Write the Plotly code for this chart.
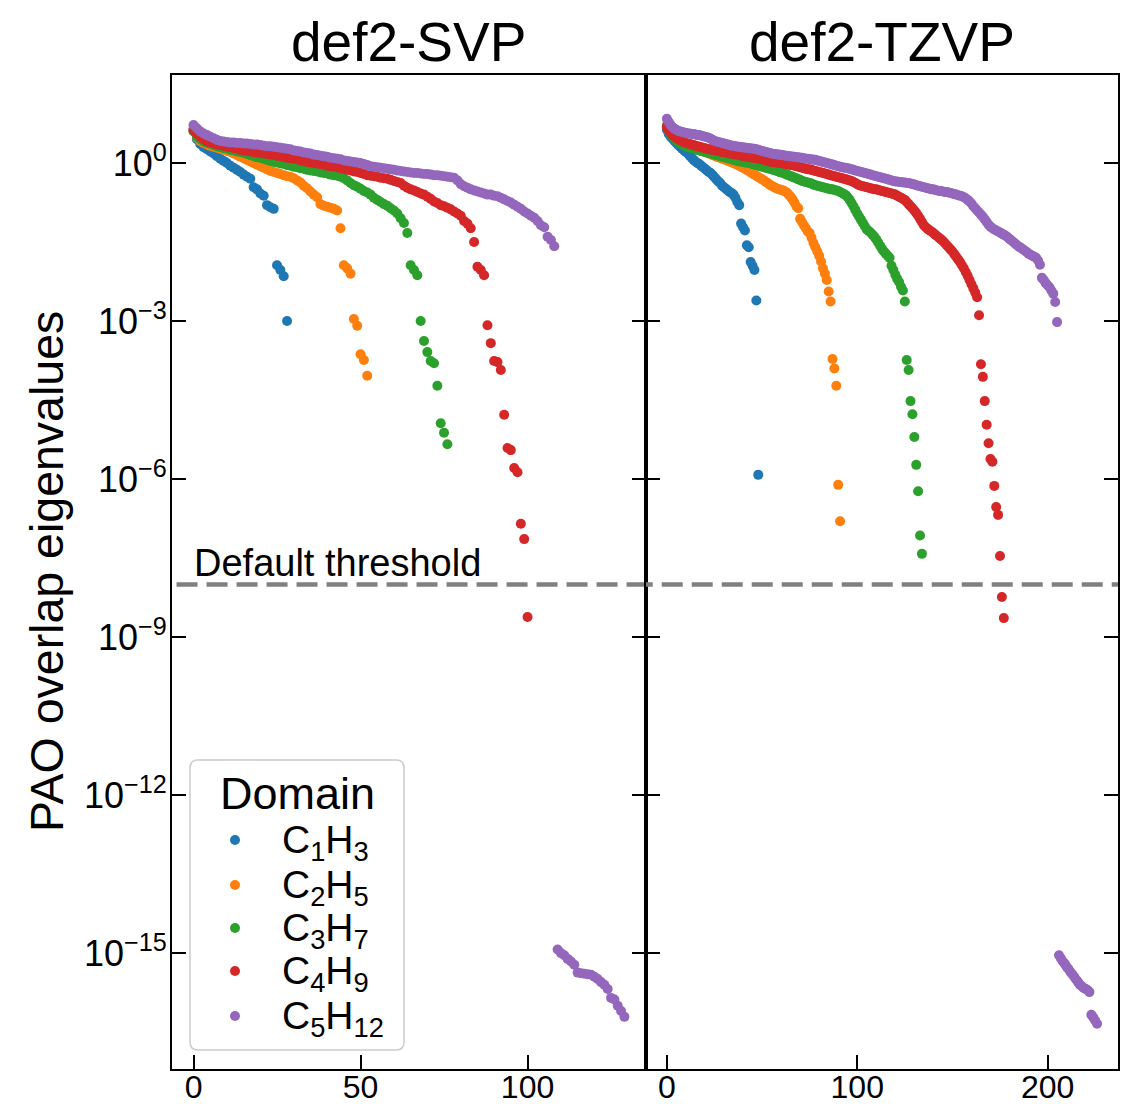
import plotly.graph_objects as go

# ---------------- data (log10 of PAO overlap eigenvalues) ----------------
domain_names = ["C<sub>1</sub>H<sub>3</sub>", "C<sub>2</sub>H<sub>5</sub>", "C<sub>3</sub>H<sub>7</sub>",
                "C<sub>4</sub>H<sub>9</sub>", "C<sub>5</sub>H<sub>12</sub>"]
colors = ["#1f77b4", "#ff7f0e", "#2ca02c", "#d62728", "#9467bd"]
panel_titles = ["def2-SVP", "def2-TZVP"]
legend_title = "Domain"
x_ticks_svp = [0, 50, 100]
x_ticks_tzvp = [0, 100, 200]
y_tick_exponents = [0, -3, -6, -9, -12, -15]
threshold = 1e-8

svp_c1h3 = [0.62, 0.45, 0.36, 0.30, 0.26, 0.22, 0.18, 0.13, 0.08, 0.04,
            0.00, -0.05, -0.09, -0.13, -0.17, -0.22, -0.26, -0.30, -0.46, -0.50,
            -0.58, -0.62, -0.80, -0.84, -0.87, -1.94, -2.03, -2.15, -3.00]

svp_c2h5 = [0.66, 0.48, 0.42, 0.38, 0.35, 0.33, 0.31, 0.29, 0.27, 0.25,
            0.23, 0.21, 0.18, 0.15, 0.12, 0.09, 0.06, 0.03, 0.00, -0.03,
            -0.06, -0.09, -0.12, -0.15, -0.17, -0.19, -0.21, -0.23, -0.25, -0.26,
            -0.29, -0.33, -0.37, -0.43, -0.48, -0.54, -0.60, -0.65, -0.78, -0.81,
            -0.83, -0.85, -0.87, -0.90,
            -1.24, -1.94, -2.00, -2.10, -2.96, -3.09, -3.63, -3.74, -4.04]

svp_c3h7 = [0.60, 0.50, 0.45, 0.41, 0.38, 0.36, 0.34, 0.32, 0.30, 0.28,
            0.27, 0.25, 0.24, 0.22, 0.21, 0.19, 0.17, 0.15, 0.13, 0.11,
            0.10, 0.08, 0.06, 0.04, 0.02, 0.01, -0.01, -0.02, -0.04, -0.05,
            -0.07, -0.08, -0.10, -0.11, -0.13, -0.14, -0.15, -0.16, -0.18, -0.19,
            -0.20, -0.22, -0.23, -0.24, -0.26, -0.29, -0.33, -0.38, -0.42, -0.45,
            -0.49, -0.53, -0.56, -0.60, -0.66, -0.70, -0.74, -0.78, -0.81, -0.86,
            -0.90, -0.96, -1.05, -1.14,
            -1.33, -1.94, -2.03, -2.13, -3.00, -3.38, -3.59, -3.76, -3.80, -4.23,
            -4.94, -5.12, -5.34]

svp_c4h9 = [0.62, 0.55, 0.50, 0.45, 0.41, 0.39, 0.37, 0.35, 0.34, 0.33,
            0.31, 0.30, 0.28, 0.27, 0.25, 0.24, 0.23, 0.22, 0.21, 0.20,
            0.19, 0.18, 0.17, 0.16, 0.15, 0.14, 0.13, 0.11, 0.10, 0.09,
            0.08, 0.07, 0.05, 0.04, 0.02, 0.01, 0.00, -0.01, -0.02, -0.03,
            -0.05, -0.06, -0.07, -0.08, -0.10, -0.11, -0.13, -0.14, -0.16, -0.17,
            -0.19, -0.21, -0.23, -0.24, -0.25, -0.26, -0.28, -0.29, -0.30, -0.32,
            -0.34, -0.36, -0.38, -0.43, -0.47, -0.50, -0.52, -0.55, -0.58, -0.60,
            -0.64, -0.68, -0.73, -0.76, -0.80, -0.82, -0.85, -0.88, -0.92, -0.96,
            -1.00, -1.10, -1.15, -1.24, -1.50,
            -1.97, -2.03, -2.13, -3.08, -3.42, -3.76, -3.78, -3.93, -4.78, -5.41,
            -5.45, -5.79, -5.87, -6.85, -7.14, -8.62]

svp_c5h12 = [0.72, 0.66, 0.60, 0.56, 0.53, 0.50, 0.47, 0.44, 0.42, 0.41,
             0.40, 0.39, 0.39, 0.38, 0.38, 0.37, 0.37, 0.36, 0.35, 0.35,
             0.34, 0.33, 0.32, 0.32, 0.31, 0.30, 0.29, 0.28, 0.27, 0.26,
             0.24, 0.23, 0.22, 0.20, 0.19, 0.18, 0.16, 0.15, 0.14, 0.13,
             0.12, 0.10, 0.09, 0.08, 0.07, 0.05, 0.04, 0.03, 0.02, 0.01,
             0.00, -0.02, -0.04, -0.06, -0.07, -0.08, -0.09, -0.10, -0.11, -0.12,
             -0.13, -0.14, -0.15, -0.16, -0.17, -0.18, -0.19, -0.19, -0.20, -0.21,
             -0.21, -0.22, -0.23, -0.23, -0.24, -0.25, -0.26, -0.27, -0.28, -0.33,
             -0.40, -0.44, -0.47, -0.50, -0.52, -0.54, -0.56, -0.58, -0.60, -0.60,
             -0.62, -0.63, -0.66, -0.69, -0.72, -0.75, -0.79, -0.83, -0.87, -0.92,
             -0.96, -1.00, -1.04, -1.10, -1.18, -1.22, -1.40, -1.46, -1.58,
             -14.93, -15.00, -15.04, -15.11, -15.16, -15.22, -15.37, -15.38, -15.39, -15.40,
             -15.41, -15.45, -15.49, -15.55, -15.60, -15.68, -15.85, -15.88, -16.00, -16.10,
             -16.21]

tzvp_c1h3 = [0.63, 0.55, 0.50, 0.46, 0.42, 0.38, 0.34, 0.31, 0.27, 0.24,
             0.21, 0.18, 0.14, 0.10, 0.06, 0.03, 0.00, -0.02, -0.05, -0.08,
             -0.11, -0.14, -0.17, -0.19, -0.23, -0.27, -0.31, -0.35, -0.38, -0.43,
             -0.46, -0.49, -0.52, -0.55, -0.57, -0.60, -0.66, -0.74, -0.80,
             -1.15, -1.22, -1.28, -1.56, -1.60, -1.88, -1.95, -2.03, -2.61, -5.92]

tzvp_c2h5 = [0.72, 0.64, 0.58, 0.54, 0.50, 0.47, 0.44, 0.42, 0.40, 0.38,
             0.36, 0.35, 0.33, 0.32, 0.30, 0.29, 0.27, 0.26, 0.24, 0.23,
             0.21, 0.20, 0.18, 0.17, 0.15, 0.14, 0.12, 0.11, 0.10, 0.08,
             0.07, 0.06, 0.04, 0.03, 0.01, 0.00, -0.02, -0.03, -0.05, -0.07,
             -0.09, -0.11, -0.13, -0.15, -0.18, -0.20, -0.22, -0.24, -0.27, -0.29,
             -0.31, -0.33, -0.36, -0.38, -0.41, -0.43, -0.45, -0.47, -0.49, -0.50,
             -0.51, -0.52, -0.54, -0.56, -0.60, -0.64, -0.69, -0.75, -0.82, -0.86,
             -1.06, -1.12, -1.18, -1.24, -1.30, -1.33, -1.42, -1.52, -1.60, -1.68,
             -1.76, -1.87, -2.00, -2.10, -2.22, -2.44, -2.63,
             -3.72, -3.90, -4.23, -6.11, -6.80]

tzvp_c3h7 = [0.70, 0.60, 0.55, 0.50, 0.46, 0.43, 0.40, 0.37, 0.35, 0.33,
             0.32, 0.30, 0.29, 0.28, 0.27, 0.26, 0.25, 0.24, 0.23, 0.22,
             0.21, 0.20, 0.19, 0.18, 0.17, 0.16, 0.15, 0.14, 0.13, 0.12,
             0.11, 0.10, 0.09, 0.08, 0.07, 0.06, 0.05, 0.04, 0.03, 0.03,
             0.02, 0.01, 0.01, 0.00, -0.01, -0.02, -0.03, -0.04, -0.05, -0.06,
             -0.07, -0.08, -0.09, -0.10, -0.11, -0.12, -0.13, -0.14, -0.15, -0.17,
             -0.18, -0.19, -0.20, -0.22, -0.23, -0.25, -0.26, -0.28, -0.29, -0.31,
             -0.32, -0.34, -0.35, -0.36, -0.37, -0.38, -0.39, -0.41, -0.42, -0.43,
             -0.44, -0.45, -0.46, -0.47, -0.48, -0.49, -0.50, -0.50, -0.51, -0.52,
             -0.53, -0.55, -0.57, -0.59, -0.61, -0.65, -0.70, -0.76, -0.82, -0.89,
             -0.96, -1.02, -1.08, -1.14, -1.20, -1.26, -1.29, -1.32, -1.36, -1.40,
             -1.45, -1.51, -1.57, -1.63, -1.68, -1.72, -1.76, -1.80, -1.95, -2.03,
             -2.12, -2.20, -2.26, -2.35, -2.42, -2.63,
             -3.74, -3.93, -4.52, -4.77, -5.20, -5.73, -6.23, -7.07, -7.42]

tzvp_c4h9 = [0.68, 0.62, 0.57, 0.53, 0.50, 0.47, 0.45, 0.43, 0.41, 0.40,
             0.38, 0.37, 0.36, 0.35, 0.34, 0.33, 0.32, 0.31, 0.30, 0.29,
             0.28, 0.27, 0.26, 0.26, 0.25, 0.24, 0.24, 0.23, 0.22, 0.21,
             0.21, 0.20, 0.19, 0.18, 0.18, 0.17, 0.16, 0.16, 0.15, 0.14,
             0.14, 0.13, 0.12, 0.12, 0.11, 0.10, 0.10, 0.09, 0.08, 0.08,
             0.07, 0.06, 0.05, 0.04, 0.03, 0.02, 0.02, 0.01, 0.01, 0.00,
             0.00, -0.01, -0.02, -0.02, -0.03, -0.04, -0.04, -0.05, -0.06, -0.07,
             -0.08, -0.09, -0.10, -0.11, -0.12, -0.12, -0.13, -0.14, -0.15, -0.16,
             -0.17, -0.18, -0.19, -0.20, -0.21, -0.22, -0.23, -0.24, -0.25, -0.26,
             -0.27, -0.28, -0.29, -0.30, -0.31, -0.32, -0.33, -0.34, -0.36, -0.38,
             -0.40, -0.42, -0.43, -0.44, -0.45, -0.46, -0.47, -0.48, -0.49, -0.50,
             -0.50, -0.51, -0.52, -0.53, -0.54, -0.55, -0.56, -0.57, -0.58, -0.59,
             -0.60, -0.62, -0.64, -0.66, -0.68, -0.70, -0.74, -0.78, -0.82, -0.86,
             -0.90, -0.95, -1.00, -1.06, -1.12, -1.18, -1.22, -1.25, -1.28, -1.30,
             -1.33, -1.36, -1.39, -1.42, -1.45, -1.48, -1.52, -1.56, -1.60, -1.64,
             -1.68, -1.73, -1.78, -1.83, -1.88, -1.94, -2.00, -2.07, -2.14, -2.22,
             -2.30, -2.38, -2.46, -2.55,
             -2.89, -3.82, -4.06, -4.52, -4.97, -5.32, -5.62, -5.67, -6.13, -6.53,
             -6.68, -7.46, -8.24, -8.64]

tzvp_c5h12 = [0.84, 0.78, 0.72, 0.68, 0.65, 0.63, 0.61, 0.60, 0.59, 0.58,
              0.57, 0.56, 0.56, 0.55, 0.55, 0.54, 0.53, 0.53, 0.52, 0.51,
              0.50, 0.49, 0.48, 0.46, 0.44, 0.42, 0.41, 0.40, 0.39, 0.38,
              0.37, 0.36, 0.35, 0.34, 0.33, 0.33, 0.32, 0.31, 0.31, 0.30,
              0.30, 0.29, 0.29, 0.28, 0.28, 0.27, 0.27, 0.26, 0.25, 0.24,
              0.23, 0.22, 0.21, 0.20, 0.19, 0.18, 0.17, 0.17, 0.16, 0.16,
              0.15, 0.15, 0.14, 0.14, 0.13, 0.13, 0.12, 0.12, 0.11, 0.11,
              0.10, 0.10, 0.09, 0.08, 0.08, 0.07, 0.07, 0.06, 0.06, 0.05,
              0.04, 0.03, 0.02, 0.01, 0.00, -0.01, -0.02, -0.03, -0.04, -0.05,
              -0.06, -0.07, -0.08, -0.09, -0.09, -0.10, -0.11, -0.12, -0.13, -0.14,
              -0.15, -0.16, -0.17, -0.18, -0.19, -0.20, -0.21, -0.22, -0.23, -0.24,
              -0.25, -0.26, -0.27, -0.28, -0.29, -0.30, -0.31, -0.32, -0.33, -0.34,
              -0.35, -0.35, -0.36, -0.36, -0.37, -0.37, -0.38, -0.38, -0.39, -0.40,
              -0.41, -0.42, -0.43, -0.44, -0.45, -0.46, -0.47, -0.48, -0.49, -0.50,
              -0.50, -0.51, -0.52, -0.53, -0.53, -0.54, -0.55, -0.55, -0.56, -0.57,
              -0.58, -0.59, -0.60, -0.61, -0.62, -0.63, -0.65, -0.67, -0.70, -0.73,
              -0.77, -0.82, -0.86, -0.90, -0.94, -0.98, -1.02, -1.07, -1.12, -1.17,
              -1.21, -1.24, -1.26, -1.28, -1.30, -1.32, -1.34, -1.36, -1.38, -1.41,
              -1.44, -1.47, -1.50, -1.53, -1.56, -1.59, -1.61, -1.64, -1.66, -1.69,
              -1.72, -1.74, -1.76, -1.78, -1.80, -1.85, -1.93, -2.18, -2.22, -2.28,
              -2.32, -2.36, -2.42, -2.48, -2.64, -3.02,
              -15.04, -15.10, -15.16, -15.20, -15.26, -15.30, -15.36, -15.40, -15.45, -15.50,
              -15.55, -15.60, -15.63, -15.66, -15.68, -15.70, -15.74, -16.17, -16.22, -16.28,
              -16.34]

svp_series = [svp_c1h3, svp_c2h5, svp_c3h7, svp_c4h9, svp_c5h12]
tzvp_series = [tzvp_c1h3, tzvp_c2h5, tzvp_c3h7, tzvp_c4h9, tzvp_c5h12]

# ---------------- figure geometry ----------------
W, H = 1121, 1104
ML, MR, MT, MB = 172, 3, 75, 35
PW, PH = W - ML - MR, H - MT - MB


def px_to_paper(px, py):
    return (px - ML) / PW, (H - MB - py) / PH


FONT = "Liberation Sans, Arial, Helvetica, sans-serif"
fig = go.Figure()

for k, logs in enumerate(svp_series):
    fig.add_trace(go.Scatter(
        x=list(range(len(logs))), y=[10 ** v for v in logs], mode="markers",
        marker=dict(color=colors[k], size=10, line=dict(width=0)),
        name=domain_names[k], showlegend=False, xaxis="x", yaxis="y"))

for k, logs in enumerate(tzvp_series):
    fig.add_trace(go.Scatter(
        x=list(range(len(logs))), y=[10 ** v for v in logs], mode="markers",
        marker=dict(color=colors[k], size=10, line=dict(width=0)),
        name=domain_names[k], showlegend=False, xaxis="x2", yaxis="y2"))

# threshold lines (span the full width of each panel)
for xa, ya, xr in [("x", "y", [-50, 300]), ("x2", "y2", [-50, 400])]:
    fig.add_trace(go.Scatter(
        x=xr, y=[threshold, threshold], mode="lines",
        line=dict(color="#808080", width=4.5, dash="21px,9px"),
        showlegend=False, hoverinfo="skip", xaxis=xa, yaxis=ya))

axis_common = dict(showline=True, linecolor="black", linewidth=2, ticks="inside",
                   ticklen=14, tickwidth=2, tickcolor="black", showgrid=False,
                   zeroline=False, automargin=False)

x_tickfont = dict(size=32, color="black", family=FONT)
y_tickfont = dict(size=36, color="black", family=FONT)

y_tickvals = [10.0 ** e for e in y_tick_exponents]
y_ticktext = ["10<sup>%s</sup>" % (str(e).replace("-", "\u2212")) for e in y_tick_exponents]

split = 0.501
fig.update_layout(
    width=W, height=H,
    margin=dict(l=ML, r=MR, t=MT, b=MB, autoexpand=False),
    paper_bgcolor="white", plot_bgcolor="white",
    font=dict(family=FONT, color="black"),
    xaxis=dict(domain=[0, split], range=[-6.45, 135.45], tickvals=x_ticks_svp,
               mirror=True, anchor="y", ticklabelstandoff=-11, tickfont=x_tickfont,
               **axis_common),
    xaxis2=dict(domain=[split, 1], range=[-11.0, 237.0], tickvals=x_ticks_tzvp,
                mirror=True, anchor="y2", ticklabelstandoff=-11, tickfont=x_tickfont,
                **axis_common),
    yaxis=dict(type="log", range=[-17.2, 1.671], tickvals=y_tickvals, ticktext=y_ticktext,
               mirror="ticks", anchor="x", ticklabelstandoff=-4, tickfont=y_tickfont,
               **axis_common),
    yaxis2=dict(type="log", range=[-17.2, 1.671], tickvals=y_tickvals, matches="y",
                showticklabels=False, mirror="ticks", anchor="x2", tickfont=y_tickfont,
                **axis_common),
    showlegend=False,
)

# ---------------- legend (drawn by hand to match the reference box) ----------------
bx0, by0 = px_to_paper(190, 1050)
bx1, by1 = px_to_paper(404, 760)
r = 8
rx, ry = r / PW, r / PH
legend_path = (f"M {bx0 + rx},{by0} L {bx1 - rx},{by0} Q {bx1},{by0} {bx1},{by0 + ry} "
               f"L {bx1},{by1 - ry} Q {bx1},{by1} {bx1 - rx},{by1} "
               f"L {bx0 + rx},{by1} Q {bx0},{by1} {bx0},{by1 - ry} "
               f"L {bx0},{by0 + ry} Q {bx0},{by0} {bx0 + rx},{by0} Z")
shapes = [dict(type="path", path=legend_path, xref="paper", yref="paper",
               fillcolor="rgba(255,255,255,0.8)", line=dict(color="#cccccc", width=1.5),
               layer="above")]

annotations = []
lx, ly = px_to_paper(297, 793)
annotations.append(dict(text=legend_title, x=lx, y=ly, xref="paper", yref="paper",
                        xanchor="center", yanchor="middle", showarrow=False,
                        font=dict(size=45)))
item_y = [840, 885, 928, 971, 1016]
for k, name in enumerate(domain_names):
    cx, cy = px_to_paper(235, item_y[k])
    d = 5
    shapes.append(dict(type="circle", xref="paper", yref="paper",
                       x0=cx - d / PW, x1=cx + d / PW, y0=cy - d / PH, y1=cy + d / PH,
                       fillcolor=colors[k], line=dict(width=0), layer="above"))
    tx, ty = px_to_paper(280, item_y[k])
    annotations.append(dict(text=name, x=tx, y=ty, xref="paper", yref="paper",
                            xanchor="left", yanchor="middle", yshift=-2, showarrow=False,
                            font=dict(size=39)))

annotations += [
    dict(text=panel_titles[0], x=split / 2, y=1, xref="paper", yref="paper",
         xanchor="center", yanchor="bottom", showarrow=False, font=dict(size=55)),
    dict(text=panel_titles[1], x=(split + 1) / 2, y=1, xref="paper", yref="paper",
         xanchor="center", yanchor="bottom", showarrow=False, font=dict(size=55)),
    dict(text="PAO overlap eigenvalues", x=px_to_paper(47, 0)[0], y=0.5, xref="paper",
         yref="paper", xanchor="center", yanchor="middle", textangle=-90, showarrow=False,
         font=dict(size=46.5)),
    dict(text="Default threshold", x=-0.6, y=-8, xref="x", yref="y",
         xanchor="left", yanchor="bottom", yshift=-2, showarrow=False, font=dict(size=38)),
]
fig.update_layout(annotations=annotations, shapes=shapes)

# remove the browser's default 8px page margin so the figure sits at the window origin
fig.write_html("out.html",
               config={"displayModeBar": False},
               post_script="document.body.style.margin='0px';"
                           "document.body.style.overflow='hidden';")
